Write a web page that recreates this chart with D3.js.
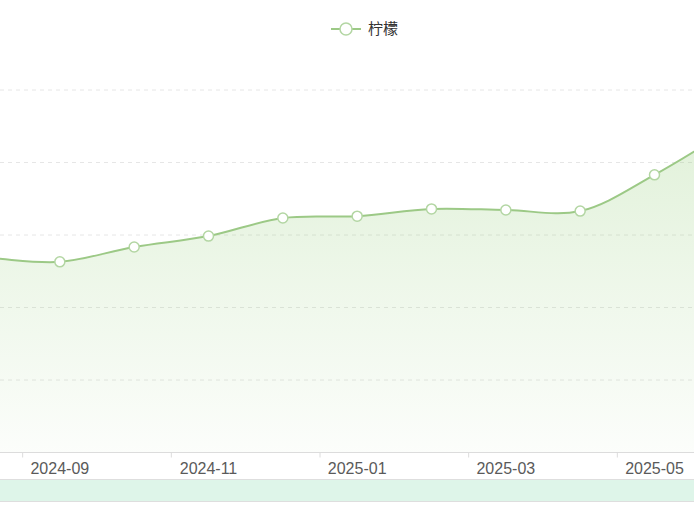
<!DOCTYPE html>
<html>
<head>
<meta charset="utf-8">
<script src="https://cdn.jsdelivr.net/npm/d3@7"></script>
<style>
  html, body { margin: 0; padding: 0; background: #fff; overflow: hidden; }
  svg { display: block; font-family: "Noto Sans", "Noto Sans CJK SC", sans-serif; }
</style>
</head>
<body>
<svg id="chart" width="694" height="532"></svg>
<script>
// chart data
var months = ['2024-07', '2024-08', '2024-09', '2024-10', '2024-11', '2024-12',
              '2025-01', '2025-02', '2025-03', '2025-04', '2025-05', '2025-06'];
var lemon  = [5.45, 5.37, 5.26, 5.67, 5.97, 6.47, 6.52, 6.72, 6.69, 6.66, 7.66, 8.9];
var labelMonths = ['2024-09', '2024-11', '2025-01', '2025-03', '2025-05'];
var yTicks = [0, 2, 4, 6, 8, 10];
var seriesName = '柠檬';

var W = 694, H = 532;
// plot area runs past the left and right edges (picture is cropped)
var plot = { left: -126, right: 766, top: 90, bottom: 452.5 };
var green = '#9cc986';

var svg = d3.select('#chart');

var x = d3.scaleBand().domain(months).range([plot.left, plot.right]);
var y = d3.scaleLinear().domain([0, 10]).range([plot.bottom, plot.top]);
var cx = function(d, i) { return x(months[i]) + x.bandwidth() / 2; };

// area gradient
var grad = svg.append('defs').append('linearGradient')
  .attr('id', 'areaFill')
  .attr('gradientUnits', 'userSpaceOnUse')
  .attr('x1', 0).attr('x2', 0)
  .attr('y1', y(10)).attr('y2', y(0));
grad.append('stop').attr('offset', '0%').attr('stop-color', '#91cc75').attr('stop-opacity', 0.3);
grad.append('stop').attr('offset', '100%').attr('stop-color', '#91cc75').attr('stop-opacity', 0.03);

// dashed split lines
svg.append('g').selectAll('line')
  .data(yTicks.filter(function(t) { return t > 0; }))
  .enter().append('line')
    .attr('x1', 0).attr('x2', W)
    .attr('y1', function(d) { return y(d); })
    .attr('y2', function(d) { return y(d); })
    .style('stroke', '#e6e6e6')
    .style('stroke-width', 1)
    .style('stroke-dasharray', '4,4');

var curve = d3.curveCatmullRom.alpha(0.5);

svg.append('path')
  .datum(lemon)
  .attr('d', d3.area().curve(curve).x(cx).y0(y(0)).y1(function(d) { return y(d); }))
  .style('fill', 'url(#areaFill)');

svg.append('path')
  .datum(lemon)
  .attr('d', d3.line().curve(curve).x(cx).y(function(d) { return y(d); }))
  .style('fill', 'none')
  .style('stroke', green)
  .style('stroke-width', 2);

svg.append('g').selectAll('circle')
  .data(lemon)
  .enter().append('circle')
    .attr('cx', cx)
    .attr('cy', function(d) { return y(d); })
    .attr('r', 5)
    .style('fill', '#fff')
    .style('stroke', '#b3d6a3')
    .style('stroke-width', 1.5);

// x axis: labels centred on every other month, ticks on the band boundary
var xAxis = svg.append('g')
  .attr('transform', 'translate(0,' + plot.bottom + ')')
  .call(d3.axisBottom(x).tickValues(labelMonths).tickSize(0).tickPadding(10));
xAxis.select('.domain').remove();
xAxis.selectAll('text')
  .style('font-size', '16px')
  .style('fill', '#5a5a5a')
  .style('font-family', '"Liberation Sans", "Noto Sans", sans-serif');

svg.append('line')
  .attr('x1', 0).attr('x2', W)
  .attr('y1', plot.bottom).attr('y2', plot.bottom)
  .style('stroke', '#dcdcdc').style('stroke-width', 1);

svg.append('g').selectAll('line')
  .data(labelMonths)
  .enter().append('line')
    .attr('x1', function(d) { return x(d); })
    .attr('x2', function(d) { return x(d); })
    .attr('y1', plot.bottom).attr('y2', plot.bottom + 5)
    .style('stroke', '#dcdcdc');

// data zoom slider band
svg.append('rect')
  .attr('x', -1).attr('y', 479.5)
  .attr('width', W + 2).attr('height', 22)
  .style('fill', '#def5e9')
  .style('stroke', '#dedede')
  .style('stroke-width', 1);

// legend
var legend = svg.append('g').attr('transform', 'translate(346,29)');
legend.append('line')
  .attr('x1', -15).attr('x2', 15)
  .style('stroke', green).style('stroke-width', 2);
legend.append('circle')
  .attr('r', 6)
  .style('fill', '#fff')
  .style('stroke', '#b3d6a3')
  .style('stroke-width', 1.5);
legend.append('text')
  .attr('x', 22).attr('dy', '0.35em')
  .style('font-family', '"Noto Sans CJK SC", sans-serif')
  .style('font-size', '15px')
  .style('fill', '#333')
  .text(seriesName);
</script>
</body>
</html>
